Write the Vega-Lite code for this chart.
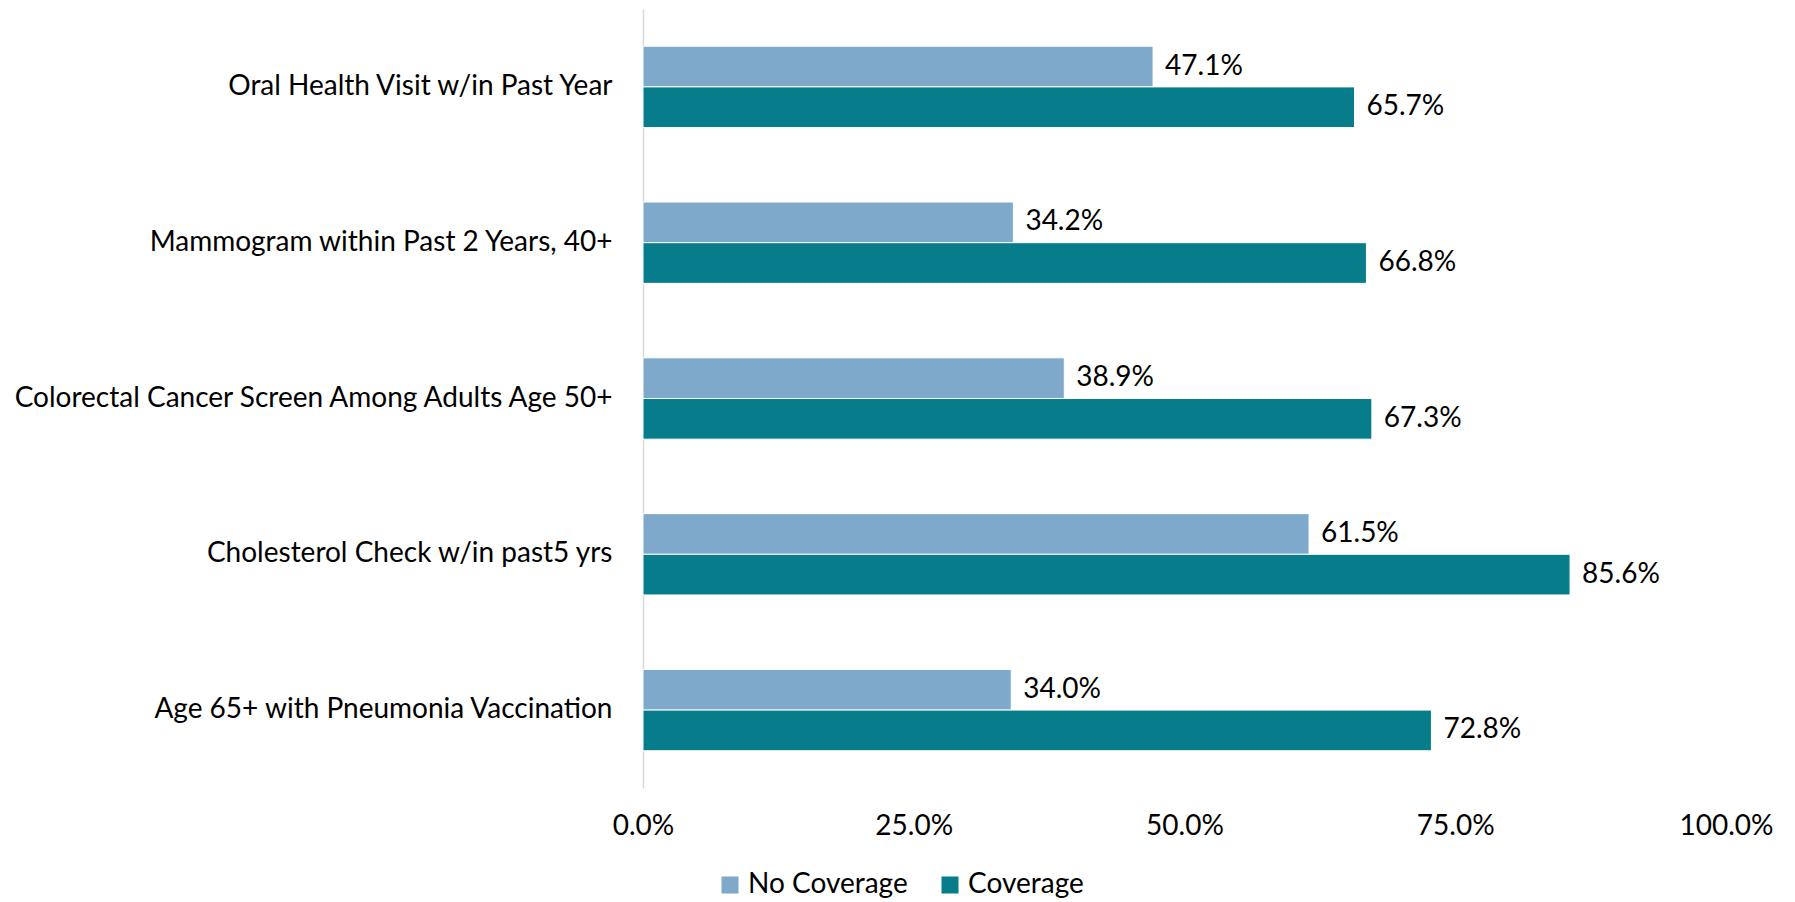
{
  "$schema": "https://vega.github.io/schema/vega-lite/v6.json",
  "width": 1083,
  "height": 779,
  "autosize": "none",
  "padding": {"left": 643, "top": 9, "right": 69, "bottom": 114},
  "background": "white",
  "config": {
    "font": "Lato",
    "view": {"stroke": null},
    "axis": {"labelFont": "Lato", "labelColor": "#000000", "labelFontSize": 28, "title": null}
  },
  "data": {
    "values": [
      {"measure": "Oral Health Visit w/in Past Year", "group": "No Coverage", "value": 0.471},
      {"measure": "Oral Health Visit w/in Past Year", "group": "Coverage", "value": 0.657},
      {"measure": "Mammogram within Past 2 Years, 40+", "group": "No Coverage", "value": 0.342},
      {"measure": "Mammogram within Past 2 Years, 40+", "group": "Coverage", "value": 0.668},
      {"measure": "Colorectal Cancer Screen Among Adults Age 50+", "group": "No Coverage", "value": 0.389},
      {"measure": "Colorectal Cancer Screen Among Adults Age 50+", "group": "Coverage", "value": 0.673},
      {"measure": "Cholesterol Check w/in past5 yrs", "group": "No Coverage", "value": 0.615},
      {"measure": "Cholesterol Check w/in past5 yrs", "group": "Coverage", "value": 0.856},
      {"measure": "Age 65+ with Pneumonia Vaccination", "group": "No Coverage", "value": 0.340},
      {"measure": "Age 65+ with Pneumonia Vaccination", "group": "Coverage", "value": 0.728}
    ]
  },
  "encoding": {
    "y": {
      "field": "measure",
      "type": "nominal",
      "sort": null,
      "scale": {"paddingInner": 0.478, "paddingOuter": 0.239},
      "axis": {"ticks": false, "domain": true, "domainColor": "#d9d9d9", "domainWidth": 1.5, "labelPadding": 31, "labelLimit": 800}
    },
    "yOffset": {
      "field": "group",
      "type": "nominal",
      "sort": ["No Coverage", "Coverage"],
      "scale": {"paddingInner": 0, "paddingOuter": 0}
    },
    "x": {
      "field": "value",
      "type": "quantitative",
      "scale": {"domain": [0, 1]},
      "axis": {"format": ".1%", "values": [0, 0.25, 0.5, 0.75, 1], "grid": false, "domain": false, "ticks": false, "labelPadding": 24, "labelFlush": false, "labelOverlap": false}
    }
  },
  "layer": [
    {
      "mark": {"type": "bar", "stroke": "white", "strokeWidth": 1},
      "encoding": {
        "color": {
          "field": "group",
          "type": "nominal",
          "sort": ["No Coverage", "Coverage"],
          "scale": {"domain": ["No Coverage", "Coverage"], "range": ["#7FA9CB", "#077D8C"]},
          "legend": {
            "title": null,
            "orient": "none",
            "direction": "horizontal",
            "legendX": 73,
            "legendY": 862,
            "symbolType": "square",
            "symbolSize": 290,
            "symbolStrokeWidth": 0,
            "labelFont": "Lato",
            "labelFontSize": 28,
            "labelColor": "#000000",
            "labelOffset": 4,
            "columnPadding": 28
          }
        }
      }
    },
    {
      "mark": {"type": "text", "align": "left", "baseline": "middle", "dx": 12, "fontSize": 28, "color": "#000000", "font": "Lato"},
      "encoding": {
        "text": {"field": "value", "type": "quantitative", "format": ".1%"}
      }
    }
  ]
}
